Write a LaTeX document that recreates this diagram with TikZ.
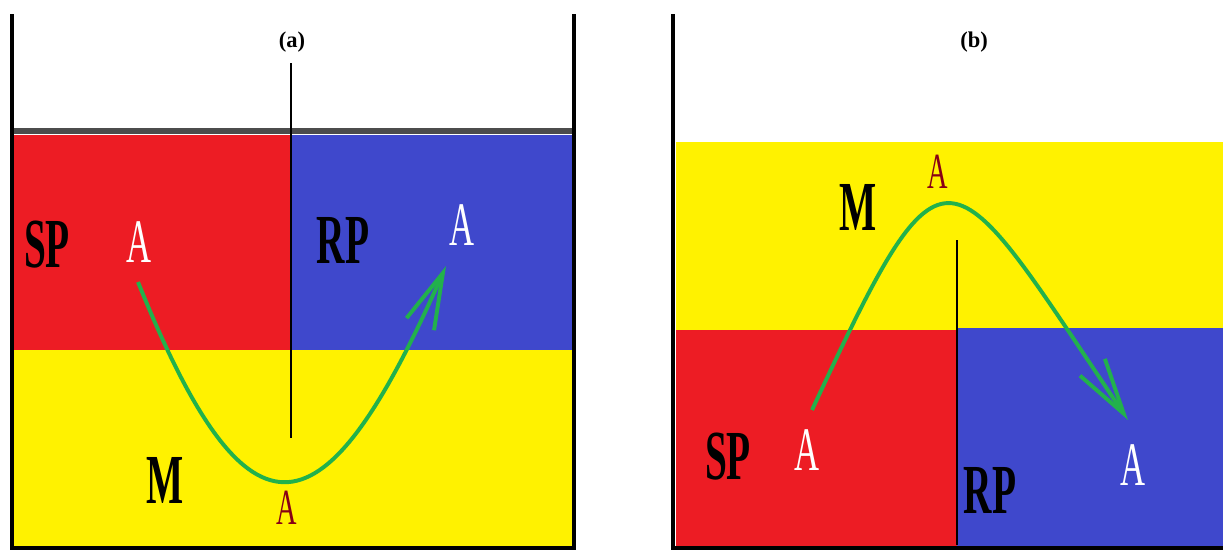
\documentclass[tikz,border=0pt]{standalone}
\usepackage{fontspec}
\setmainfont{Liberation Serif}
\newfontfamily\narrowserif[FakeStretch=0.56]{Liberation Serif}
\usetikzlibrary{arrows.meta}

\definecolor{spred}{RGB}{237,28,36}
\definecolor{rpblue}{RGB}{63,72,204}
\definecolor{myellow}{RGB}{255,242,0}
\definecolor{flowgreen}{RGB}{34,177,76}
\definecolor{darkA}{RGB}{136,0,21}

\begin{document}
\begin{tikzpicture}[
        x=0.025cm, y=-0.025cm,
        wall/.style={line width=2.8pt, black},
        divider/.style={line width=2pt, black},
        phase/.style={font=\narrowserif\bfseries\fontsize{50}{50}\selectfont, inner sep=0pt},
        solute/.style={font=\narrowserif\fontsize{44}{44}\selectfont, text=white, inner sep=0pt},
        membA/.style={font=\narrowserif\fontsize{36}{36}\selectfont, text=darkA, inner sep=0pt},
        title/.style={font=\bfseries\fontsize{16}{16}\selectfont, inner sep=0pt},
        flow/.style={line width=2.8pt, draw=flowgreen, -{Straight Barb[length=1.4cm, width=0.75cm]}}
    ]
        \useasboundingbox (0,0) rectangle (1223,554);

        % (a) Regioes
        \fill[spred] (14,135) rectangle (291,350);
        \fill[rpblue] (291,135) rectangle (572,352);
        \fill[myellow] (14,350) rectangle (572,547);
        \draw[line width=4pt, black!70] (14,131) -- (572,131);
        \draw[divider] (291,63) -- (291,438);
        \draw[wall] (12,14) -- (12,550);
        \draw[wall] (574,14) -- (574,550);
        \draw[line width=3.5pt] (10,548) -- (576,548);

        % (b) Regioes
        \fill[myellow] (676,142) rectangle (1223,330);
        \fill[spred] (676,330) rectangle (957,547);
        \fill[rpblue] (957,328) rectangle (1223,547);
        \draw[divider] (957,240) -- (957,545);
        \draw[wall] (673,14) -- (673,550);
        \draw[line width=3.5pt] (671,548) -- (1223,548);

        % (a) Textos
        \node[title] (ta) at (292,42) {(a)};
        \node[phase] (sp1) at (47,245) {SP};
        \node[solute] (sa1) at (139,242) {A};
        \node[phase] (rp1) at (343,240) {RP};
        \node[solute] (ra1) at (462,225) {A};
        \node[phase] (m1) at (165,480) {M};
        \node[membA] (ma1) at (287,508) {A};

        % (b) Textos
        \node[title] (tb) at (974,42) {(b)};
        \node[phase] (m2) at (858,207) {M};
        \node[membA] (ma2) at (938,172) {A};
        \node[phase] (sp2) at (728,457) {SP};
        \node[solute] (sa2) at (807,450) {A};
        \node[phase] (rp2) at (990,490) {RP};
        \node[solute] (ra2) at (1133,465) {A};

        % Setas
        \coordinate (s1) at (138,282);
        \coordinate (e1) at (446,266);
        \coordinate (s2) at (812,410);
        \coordinate (e2) at (1128,420);
        \draw[flow] (s1) .. controls (250,560) and (325,540) .. (e1);
        \draw[flow] (s2) .. controls (948,118) and (946,150) .. (e2);

    \end{tikzpicture}
\end{document}
